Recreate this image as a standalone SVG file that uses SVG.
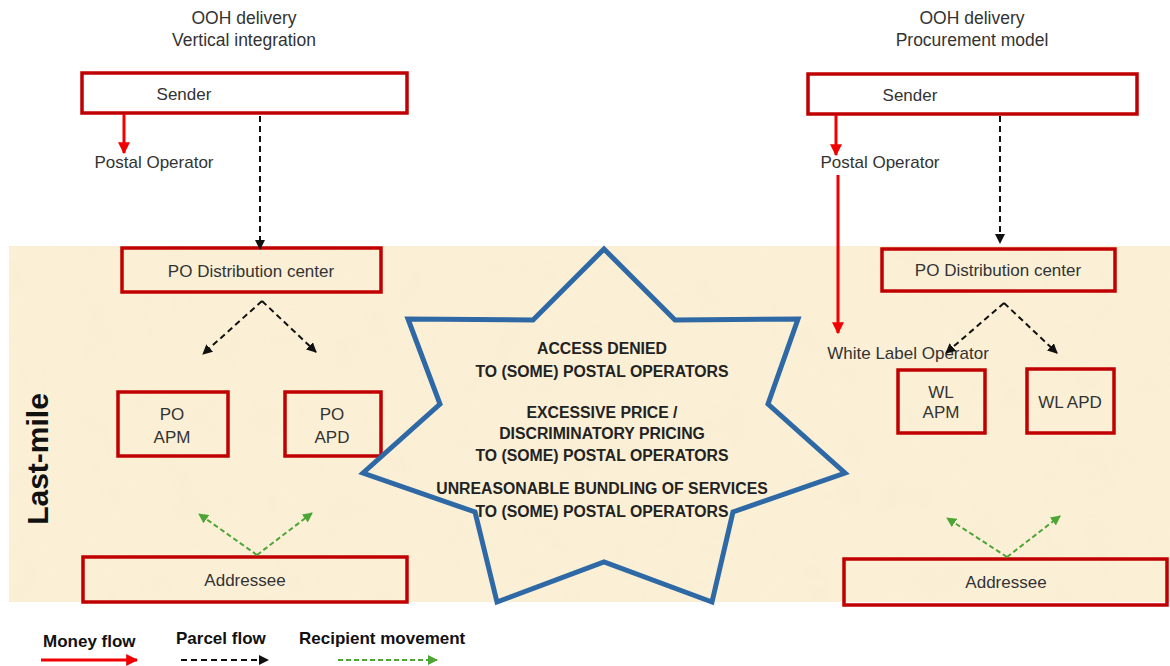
<svg xmlns="http://www.w3.org/2000/svg" width="1170" height="666" viewBox="0 0 1170 666">
  <style>
    .box { fill: none; stroke: #C00000; stroke-width: 3.5; }
    .lbl { font-family: "Liberation Sans", Arial, sans-serif; font-size: 17px; fill: #333; text-anchor: middle; dominant-baseline: central; }
    .title { font-family: "Liberation Sans", Arial, sans-serif; font-size: 17.5px; fill: #333; text-anchor: middle; dominant-baseline: central; }
    .star-t { font-family: "Liberation Sans", Arial, sans-serif; font-size: 15.8px; font-weight: bold; fill: #222; text-anchor: middle; dominant-baseline: central; }
    .leg { font-family: "Liberation Sans", Arial, sans-serif; font-size: 17px; font-weight: bold; fill: #111; dominant-baseline: central; }
    .money { stroke: #F00000; stroke-width: 3; fill: none; }
    .parcel { stroke: #111; stroke-width: 2; stroke-dasharray: 6 4; fill: none; }
    .recip { stroke: #4CA535; stroke-width: 2; stroke-dasharray: 5 3; fill: none; }
  </style>
  <defs>
    <marker id="mRed" viewBox="0 0 10 10" refX="9" refY="5" markerWidth="4" markerHeight="4" orient="auto" markerUnits="strokeWidth">
      <path d="M0,0 L10,5 L0,10 z" fill="#F00000"/>
    </marker>
    <marker id="mBlack" viewBox="0 0 10 10" refX="9" refY="5" markerWidth="5" markerHeight="5" orient="auto" markerUnits="strokeWidth">
      <path d="M0,0 L10,5 L0,10 z" fill="#111"/>
    </marker>
    <marker id="mGreen" viewBox="0 0 10 10" refX="9" refY="5" markerWidth="5" markerHeight="5" orient="auto" markerUnits="strokeWidth">
      <path d="M0,0 L10,5 L0,10 z" fill="#4CA535"/>
    </marker>
    <filter id="parchment" x="0" y="0" width="100%" height="100%">
      <feTurbulence type="fractalNoise" baseFrequency="0.025" numOctaves="3" seed="7" result="n"/>
      <feColorMatrix in="n" type="matrix" values="0 0 0 0 0.93  0 0 0 0 0.84  0 0 0 0 0.64  0 0 0 -1.6 0.85" result="c"/>
      <feComposite in="c" in2="SourceGraphic" operator="in"/>
    </filter>
  </defs>

  <!-- page -->
  <rect x="0" y="0" width="1170" height="666" fill="#FFFFFF"/>

  <!-- last-mile band -->
  <rect x="9" y="246" width="1161" height="356" fill="#FBF0D6"/>
  <rect x="9" y="246" width="1161" height="356" fill="#FBF0D6" filter="url(#parchment)" opacity="0.6"/>

  <!-- column titles -->
  <text class="title" x="244" y="18">OOH delivery</text>
  <text class="title" x="244" y="40">Vertical integration</text>
  <text class="title" x="972" y="18">OOH delivery</text>
  <text class="title" x="972" y="40">Procurement model</text>

  <text x="48" y="459" transform="rotate(-90 48 459)" font-family="'Liberation Sans', Arial, sans-serif" font-size="30" font-weight="bold" fill="#111" text-anchor="middle">Last-mile</text>

  <!-- left column -->
  <g id="sender-left">
    <rect class="box" x="82" y="73" width="325" height="40"/>
    <text class="lbl" x="184" y="94">Sender</text>
  </g>
  <g id="po-left">
    <text class="lbl" x="154" y="162">Postal Operator</text>
  </g>
  <g id="dc-left">
    <rect class="box" x="122" y="248" width="259" height="44"/>
    <text class="lbl" x="251" y="271">PO Distribution center</text>
  </g>
  <g id="apm-left">
    <rect class="box" x="118" y="392" width="110" height="64"/>
    <text class="lbl" x="172" y="414">PO</text>
    <text class="lbl" x="172" y="437">APM</text>
  </g>
  <g id="apd-left">
    <rect class="box" x="285" y="392" width="96" height="64"/>
    <text class="lbl" x="332" y="414">PO</text>
    <text class="lbl" x="332" y="437">APD</text>
  </g>
  <g id="addressee-left">
    <rect class="box" x="83" y="557" width="324" height="45"/>
    <text class="lbl" x="245" y="580">Addressee</text>
  </g>

  <!-- right column -->
  <g id="sender-right">
    <rect class="box" x="808" y="74" width="329" height="40"/>
    <text class="lbl" x="910" y="95">Sender</text>
  </g>
  <g id="po-right">
    <text class="lbl" x="880" y="162">Postal Operator</text>
  </g>
  <g id="dc-right">
    <rect class="box" x="882" y="249" width="233" height="42"/>
    <text class="lbl" x="998" y="270">PO Distribution center</text>
  </g>
  <g id="wlo-right">
    <text class="lbl" x="908" y="353">White Label Operator</text>
  </g>
  <g id="apm-right">
    <rect class="box" x="898" y="370" width="87" height="63"/>
    <text class="lbl" x="941" y="392">WL</text>
    <text class="lbl" x="941" y="412">APM</text>
  </g>
  <g id="apd-right">
    <rect class="box" x="1027" y="369" width="87" height="64"/>
    <text class="lbl" x="1070" y="402">WL APD</text>
  </g>
  <g id="addressee-right">
    <rect class="box" x="844" y="559" width="323" height="46"/>
    <text class="lbl" x="1006" y="582">Addressee</text>
  </g>

  <!-- bottleneck star -->
  <g id="bottleneck">
    <polygon points="604,249 675,320 798,319 768,404 845,473 733,512 712,602 604,562 497,602 475,512 363,473 440,404 408,319 533,320" fill="none" stroke="#2E69A6" stroke-width="5" stroke-linejoin="miter"/>
    <text class="star-t" x="602" y="348">ACCESS DENIED</text>
    <text class="star-t" x="602" y="371">TO (SOME) POSTAL OPERATORS</text>
    <text class="star-t" x="602" y="412">EXCESSIVE PRICE /</text>
    <text class="star-t" x="602" y="433">DISCRIMINATORY PRICING</text>
    <text class="star-t" x="602" y="455">TO (SOME) POSTAL OPERATORS</text>
    <text class="star-t" x="602" y="488">UNREASONABLE BUNDLING OF SERVICES</text>
    <text class="star-t" x="602" y="511">TO (SOME) POSTAL OPERATORS</text>
  </g>

  <!-- connectors -->
  <g id="connectors">
    <line class="money" x1="124" y1="114" x2="124" y2="153" marker-end="url(#mRed)"/>
    <line class="parcel" x1="260" y1="116" x2="260" y2="249" marker-end="url(#mBlack)"/>
    <line class="parcel" x1="262" y1="301" x2="203" y2="354" marker-end="url(#mBlack)"/>
    <line class="parcel" x1="262" y1="301" x2="316" y2="352" marker-end="url(#mBlack)"/>
    <line class="recip" x1="257" y1="555" x2="199" y2="514" marker-end="url(#mGreen)"/>
    <line class="recip" x1="257" y1="555" x2="312" y2="513" marker-end="url(#mGreen)"/>

    <line class="money" x1="836" y1="115" x2="836" y2="155" marker-end="url(#mRed)"/>
    <line class="money" x1="838" y1="175" x2="838" y2="333" marker-end="url(#mRed)"/>
    <line class="parcel" x1="1000" y1="116" x2="1000" y2="243" marker-end="url(#mBlack)"/>
    <line class="parcel" x1="1004" y1="303" x2="946" y2="353" marker-end="url(#mBlack)"/>
    <line class="parcel" x1="1004" y1="303" x2="1057" y2="353" marker-end="url(#mBlack)"/>
    <line class="recip" x1="1007" y1="557" x2="947" y2="518" marker-end="url(#mGreen)"/>
    <line class="recip" x1="1007" y1="557" x2="1060" y2="516" marker-end="url(#mGreen)"/>
  </g>

  <!-- legend -->
  <g id="legend">
    <text class="leg" x="43" y="641">Money flow</text>
    <line class="money" x1="41" y1="660" x2="137" y2="660" marker-end="url(#mRed)"/>
    <text class="leg" x="176" y="638">Parcel flow</text>
    <line class="parcel" x1="181" y1="660" x2="268" y2="660" marker-end="url(#mBlack)"/>
    <text class="leg" x="299" y="638">Recipient movement</text>
    <line class="recip" x1="338" y1="660" x2="437" y2="660" marker-end="url(#mGreen)"/>
  </g>
</svg>
